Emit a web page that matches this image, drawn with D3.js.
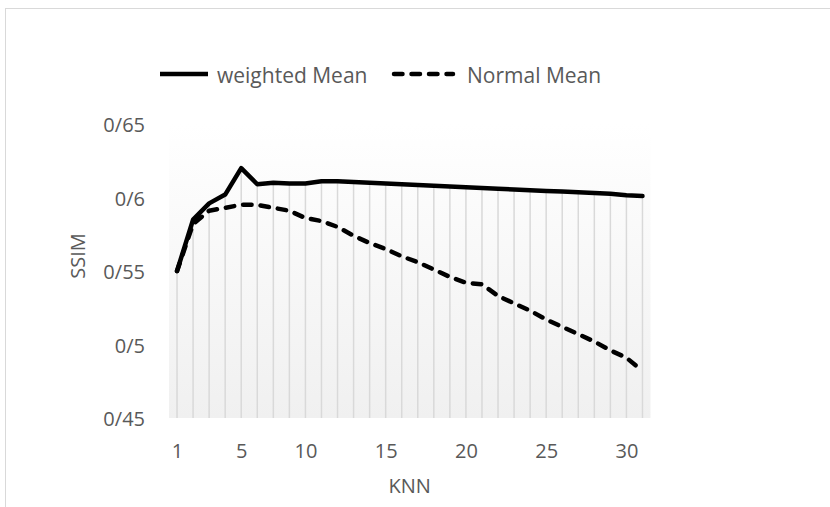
<!DOCTYPE html>
<html><head><meta charset="utf-8">
<script src="https://cdn.jsdelivr.net/npm/d3@7"></script>
<style>
html,body{margin:0;padding:0;background:#fff;overflow:hidden;}
text{font-family:"Open Sans",sans-serif;fill:#595959;}
</style></head>
<body>
<svg id="chart" width="830" height="507"></svg>
<script>
// ---- data ----
const knn = [1,2,3,4,5,6,7,8,10,11,12,13,14,15,16,17,18,19,20,21,22,23,24,25,26,27,28,29,30,31];
const weightedMean = [0.550,0.585,0.596,0.602,0.620,0.609,0.610,0.6095,0.6095,0.611,0.611,0.6105,0.610,0.6095,0.609,0.6085,0.608,0.6075,0.607,0.6065,0.606,0.6055,0.605,0.6045,0.604,0.6035,0.603,0.6025,0.6015,0.601];
const normalMean = [0.550,0.582,0.591,0.593,0.595,0.595,0.593,0.591,0.586,0.584,0.580,0.574,0.569,0.565,0.560,0.556,0.551,0.546,0.542,0.541,0.533,0.528,0.523,0.517,0.512,0.507,0.502,0.496,0.491,0.482];
const xTickValues = [1,5,10,15,20,25,30];
const yTickValues = [0.45,0.50,0.55,0.60,0.65];
const yTickLabels = ["0/45","0/5","0/55","0/6","0/65"];
const seriesNames = ["weighted Mean","Normal Mean"];

const svg = d3.select("#chart");
const plot = {left:169, right:650.5, top:124, bottom:418};

// chart border
svg.append("rect").attr("x",5.5).attr("y",8.5).attr("width",840).attr("height",520)
  .attr("fill","#fff").attr("stroke","#d9d9d9").attr("stroke-width",1);

// gradient
const defs = svg.append("defs");
const grad = defs.append("linearGradient").attr("id","bg").attr("x1",0).attr("y1",0).attr("x2",0).attr("y2",1);
grad.append("stop").attr("offset","0%").attr("stop-color","#ffffff");
grad.append("stop").attr("offset","100%").attr("stop-color","#f0f0f0");

svg.append("rect").attr("x",plot.left).attr("y",plot.top)
  .attr("width",plot.right-plot.left).attr("height",plot.bottom-plot.top).attr("fill","url(#bg)");

const xBand = d3.scaleBand().domain(knn).range([plot.left, plot.right]);
const x = k => xBand(k) + xBand.bandwidth()/2;
const y = d3.scaleLinear().domain([0.45,0.65]).range([plot.bottom, plot.top]);

// drop lines from the highest series
const g = svg.append("g");
g.selectAll("line.drop").data(knn).join("line").attr("class","drop")
  .attr("x1",k=>x(k)).attr("x2",k=>x(k))
  .attr("y1",(k,i)=>y(Math.max(weightedMean[i],normalMean[i])))
  .attr("y2",plot.bottom)
  .attr("stroke","#d9d9d9").attr("stroke-width",1.5);

// axes
const xAxis = d3.axisBottom(d3.scalePoint().domain(knn).range([x(knn[0]), x(knn[knn.length-1])]))
  .tickValues(xTickValues).tickSize(0).tickPadding(0);
const xa = svg.append("g").attr("transform",`translate(0,${plot.bottom})`).call(xAxis);
xa.select(".domain").remove();
xa.selectAll("text").attr("y",32).attr("dy","0").attr("dominant-baseline","central")
  .style("font-size","20px").attr("fill","#595959");

const yAxis = d3.axisLeft(y).tickValues(yTickValues).tickFormat((d,i)=>yTickLabels[i]).tickSize(0).tickPadding(0);
const ya = svg.append("g").attr("transform",`translate(145,0)`).call(yAxis);
ya.select(".domain").remove();
ya.selectAll("text").attr("x",0).attr("dy","0").attr("dominant-baseline","central")
  .style("font-size","20px").attr("fill","#595959");

// axis titles
svg.append("text").attr("x",(plot.left+plot.right)/2).attr("y",485).attr("text-anchor","middle")
  .attr("dominant-baseline","central").style("font-size","20px").text("KNN");
svg.append("text").attr("transform","translate(77,256) rotate(-90)").attr("text-anchor","middle")
  .attr("dominant-baseline","central").style("font-size","20px").text("SSIM");

// lines
const line = d3.line().x((d,i)=>x(knn[i])).y(d=>y(d));
svg.append("path").datum(weightedMean).attr("d",line).attr("fill","none")
  .attr("stroke","#000").attr("stroke-width",4.5).attr("stroke-linejoin","round").attr("stroke-linecap","round");
svg.append("path").datum(normalMean).attr("d",line).attr("fill","none")
  .attr("stroke","#000").attr("stroke-width",4.5).attr("stroke-linejoin","round").attr("stroke-linecap","round")
  .attr("stroke-dasharray","8.5,9");

// legend
const lg = svg.append("g");
lg.append("line").attr("x1",160).attr("x2",208).attr("y1",74).attr("y2",74)
  .attr("stroke","#000").attr("stroke-width",4.5);
lg.append("text").attr("x",217).attr("y",75).attr("dominant-baseline","central").style("font-size","21px").text(seriesNames[0]);
lg.append("line").attr("x1",394).attr("x2",453).attr("y1",74).attr("y2",74)
  .attr("stroke","#000").attr("stroke-width",4.5).attr("stroke-linecap","round").attr("stroke-dasharray","8.5,9");
lg.append("text").attr("x",467).attr("y",75).attr("dominant-baseline","central").style("font-size","21px").text(seriesNames[1]);
</script>
</body></html>
